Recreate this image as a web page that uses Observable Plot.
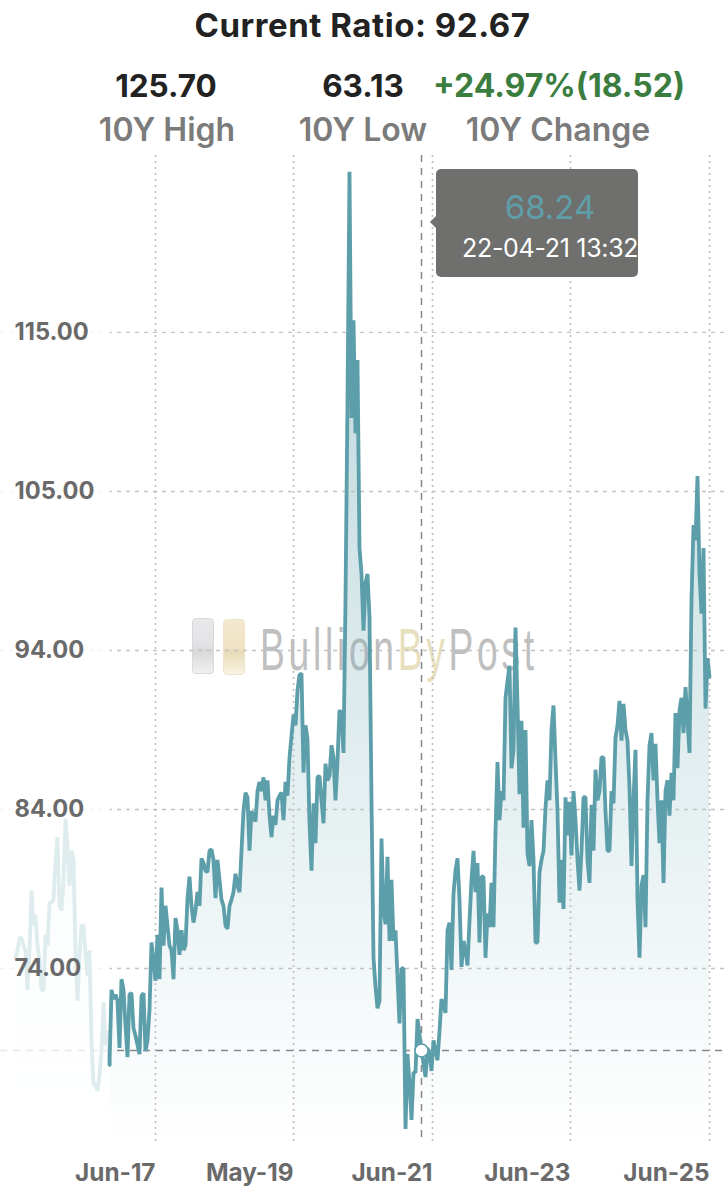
<!DOCTYPE html>
<html><head><meta charset="utf-8">
<script src="https://cdn.jsdelivr.net/npm/d3@7"></script>
<script src="https://cdn.jsdelivr.net/npm/@observablehq/plot@0.6"></script>
<style>
html,body{margin:0;padding:0;background:#fff;width:726px;height:1200px;overflow:hidden}
body{font-family:Inter,"Open Sans",sans-serif;position:relative}
.t{position:absolute;white-space:nowrap;transform:translate(-50%,-50%);line-height:1}
#chart{position:absolute;left:0;top:155px;z-index:2}
.wm{position:absolute;z-index:1}
.tip{position:absolute;left:436px;top:169px;width:202px;height:108px;background:#6f6f6d;border-radius:5px;z-index:3}
.tip:before{content:"";position:absolute;left:-4px;top:48px;width:10px;height:10px;background:#6f6f6d;transform:rotate(45deg)}
</style></head><body>
<div id="head"></div>
<div id="mark"></div>
<div id="chart"></div>
<div class="tip" id="tip"></div>
<script>
// Header
const currentRatio = "Current Ratio: 92.67";
const statValues = ["125.70","63.13","+24.97%(18.52)"];
const statLabels = ["10Y High","10Y Low","10Y Change"];
// Tooltip
const cursorIndex = 203;
const cursorValue = 68.24;
const cursorDate = "22-04-21 13:32";
// Axis
const xTickIndex = [70,139,208.5,277.5,347];
const xTickLabels = ["Jun-17","May-19","Jun-21","Jun-23","Jun-25"];
const yTickValues = [73.6,84,94.4,104.8,115.2];
const yTickLabels = ["74.00","84.00","94.00","105.00","115.00"];
// Ratio series, equal-spaced samples
const ratio = [
74.3,74.8,75.6,75.6,75.1,74.8,72.2,74.8,78.7,76.4,
77.1,75.1,74.1,72.2,72.2,75.8,75.1,77.9,77.9,78.1,
80.7,82.2,77.7,77.4,79.4,83.4,81.6,79.0,81.3,80.7,
74.8,71.5,74.5,76.4,76.4,74.5,73.1,74.8,68.9,66.0,
66.0,65.6,66.6,68.2,71.4,68.6,69.5,67.3,
72.2,71.6,71.9,71.5,68.4,72.9,72.2,69.9,67.8,71.9,
72.0,69.7,69.2,68.6,68.0,71.8,72.0,68.2,68.9,70.9,
75.3,74.1,72.8,75.8,72.9,78.9,75.1,77.7,76.4,75.1,
74.8,72.9,76.9,76.1,74.5,76.1,74.8,75.1,78.2,79.6,
77.7,76.6,77.4,78.6,77.7,80.8,80.5,80.0,79.9,81.3,
81.4,80.7,78.2,80.7,79.4,78.1,77.7,76.4,76.2,77.7,
78.1,78.6,79.8,79.0,78.6,81.3,83.9,85.1,84.8,81.3,
83.9,83.6,83.2,85.2,85.8,85.2,86.1,84.6,85.9,83.6,
82.2,83.6,83.0,84.6,84.9,85.1,83.3,85.8,84.9,87.4,
88.8,90.2,89.5,91.8,92.8,92.9,86.4,89.5,88.6,83.1,
80.0,84.4,81.8,86.1,86.2,84.6,83.1,87.0,85.9,86.2,
88.2,87.4,84.6,87.2,90.5,90.2,87.7,97.7,110.7,125.7,
109.6,116.0,108.6,113.4,101.1,99.4,95.7,98.8,99.4,96.6,
84.6,74.3,72.4,71.0,71.5,82.1,77.4,76.5,80.9,75.4,
79.4,75.4,76.1,73.0,70.0,73.6,73.6,63.1,68.0,66.1,
63.7,66.8,66.8,70.3,69.3,68.24,67.4,66.5,68.4,68.0,
66.9,68.9,68.2,67.6,69.5,71.6,71.2,70.7,76.1,76.6,
73.5,78.5,80.0,80.8,78.1,73.7,75.4,74.8,73.8,76.7,
79.4,81.3,78.6,80.5,75.3,79.6,79.6,74.3,77.2,76.3,
79.2,76.3,82.6,87.1,83.3,85.2,84.6,91.3,92.4,93.4,
86.7,87.9,95.9,90.9,85.0,89.8,82.8,89.2,81.1,80.3,
83.3,80.7,75.3,75.3,79.9,80.7,81.3,84.1,85.9,84.6,
89.2,90.8,87.2,83.9,77.9,80.7,77.5,84.8,82.3,84.5,
81.0,85.2,83.3,80.7,78.7,81.3,84.8,84.8,80.7,79.2,
84.3,81.3,86.6,84.6,85.2,87.4,87.4,83.9,81.3,81.3,
85.2,84.4,88.7,89.5,91.1,88.5,90.9,89.2,88.5,85.4,
80.3,84.6,87.9,78.1,74.3,79.0,79.7,76.3,84.6,88.2,
89.0,85.9,88.3,84.6,81.8,84.6,79.2,85.2,85.9,83.6,
86.4,84.6,90.3,86.7,90.5,91.3,89.0,92.0,89.8,87.7,
97.7,102.6,101.6,105.8,99.4,96.8,101.1,90.6,93.9,92.67
];
const fadedCount = 48;
const baseValue = 62.22;
const topValue = 126.77;
const teal = "#5c9eaa";

const series = ratio.map((v,i)=>({i,v}));
const solid = series.slice(fadedCount-1);
const faded = series.slice(0,fadedCount);

const head = document.getElementById("head");
function t(txt,cx,cy,size,weight,color,spacing){
  const d=document.createElement("div");d.className="t";d.textContent=txt;
  d.style.cssText=`left:${cx}px;top:${cy}px;font-size:${size}px;font-weight:${weight};color:${color};letter-spacing:${spacing||0}px`;
  head.appendChild(d);
}
t(currentRatio,362.5,25,33,700,"#222",.55);
const vx=[166,363,559], lx=[167,363,558];
t(statValues[0],vx[0],86,31.5,700,"#222");
t(statValues[1],vx[1],86,31.5,700,"#222");
t(statValues[2],vx[2],86,32,700,"#3b7d3f");
statLabels.forEach((s,k)=>t(s,lx[k],130,32,600,"#7b7b7b"));

// Watermark under the chart
const mark=document.getElementById("mark");
mark.innerHTML=`
<div class="wm" style="left:192px;top:618px;width:22px;height:56px;border-radius:4px;border:1px solid #d8d8da;box-sizing:border-box;background:linear-gradient(#e9e9ec,#e2e2e5 50%,#d8d8da 58%,#f0f0f0)"></div>
<div class="wm" style="left:223px;top:619px;width:22px;height:56px;border-radius:4px;border:1px solid #eee3c4;box-sizing:border-box;background:linear-gradient(#f3e9cf,#efe3c3 50%,#e8dcb8 58%,#f8f3e2)"></div>
<div class="wm" id="wmt" style="left:260px;top:612px;font-family:'Liberation Sans Narrow','Liberation Sans';font-size:60px;letter-spacing:6px;line-height:76px;white-space:nowrap;color:#bfbfbf;transform-origin:0 0;transform:scaleX(.62)"><span>Bullion</span><span style="color:#e8dfbf">By</span><span>Post</span></div>`;

const plot = Plot.plot({
  width:726,height:1045,
  marginTop:0,marginBottom:58,marginLeft:0,marginRight:0,
  style:{background:"transparent",fontFamily:"Inter,'Open Sans',sans-serif"},
  x:{domain:[-7.5,355.5],axis:null},
  y:{domain:[baseValue,topValue],axis:null},
  marks:[
    ()=>{const g=d3.create("svg:g");
      const lg=g.append("defs").append("linearGradient").attr("id","af").attr("x1",0).attr("x2",0).attr("y1",0).attr("y2",1);
      lg.append("stop").attr("offset",0).attr("stop-color",teal).attr("stop-opacity",.45);
      lg.append("stop").attr("offset",1).attr("stop-color",teal).attr("stop-opacity",0);
      return g.node();},
    Plot.areaY(series,{x:"i",y1:baseValue,y2:"v",fill:"url(#af)"}),
    Plot.ruleY(yTickValues,{stroke:"#c2c2c2",strokeWidth:1.4,strokeDasharray:"4 5"}),
    Plot.ruleX(xTickIndex,{stroke:"#bdbdbd",strokeWidth:1.6,strokeDasharray:"2 4"}),
    Plot.ruleY([cursorValue],{stroke:"#87878b",strokeWidth:1.5,strokeDasharray:"7 6"}),
    Plot.ruleX([cursorIndex],{stroke:"#87878b",strokeWidth:1.5,strokeDasharray:"7 6"}),
    Plot.line(faded,{x:"i",y:"v",stroke:teal,strokeWidth:3.8,strokeLinejoin:"bevel"}),
    Plot.rect([{x1:-7.5,x2:47.5}],{x1:"x1",x2:"x2",y1:baseValue,y2:topValue,fill:"#fff",fillOpacity:.8}),
    Plot.line(solid,{x:"i",y:"v",stroke:teal,strokeWidth:3.8,strokeLinejoin:"bevel"}),
    Plot.dot([{i:cursorIndex,v:cursorValue}],{x:"i",y:"v",r:6.5,fill:"#fff",stroke:teal,strokeWidth:1.5}),
    Plot.text(yTickValues,{y:d=>d,text:(d,i)=>yTickLabels[i],frameAnchor:"left",dx:14,textAnchor:"start",fontSize:23.7,fontWeight:700,fill:"#6a6a6a"}),
    Plot.text(xTickIndex,{x:d=>d,text:(d,i)=>xTickLabels[i],frameAnchor:"bottom",dy:31,textAnchor:"end",lineAnchor:"middle",fontSize:24.3,fontWeight:700,fill:"#6a6a6a"})
  ]
});
document.getElementById("chart").appendChild(plot);

document.getElementById("tip").innerHTML=`
<div style="position:absolute;left:0;width:228px;top:20px;text-align:center;font-size:33px;color:#5f9ea8;line-height:36px">${cursorValue.toFixed(2)}</div>
<div style="position:absolute;left:26px;top:65px;font-size:25px;color:#fff;white-space:nowrap;line-height:28px;letter-spacing:-.3px">${cursorDate}</div>`;
</script></body></html>
